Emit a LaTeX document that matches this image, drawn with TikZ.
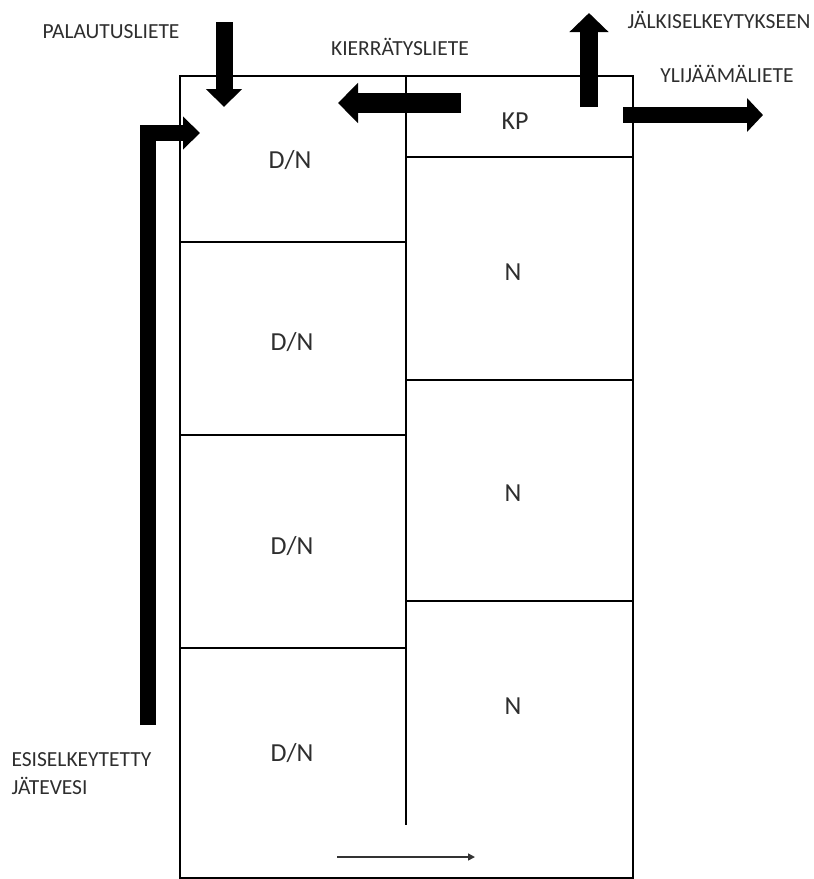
\documentclass[tikz,border=0pt]{standalone}
\usepackage{fontspec}
\setmainfont{Carlito}
\usetikzlibrary{arrows.meta}

\begin{document}
\begin{tikzpicture}[x=1pt, y=-1pt,
    tag/.style={text=black!82, font=\fontsize{21.5}{28}\selectfont},
    zone/.style={text=black!82, font=\fontsize{26}{30}\selectfont},
    wall/.style={line width=2pt},
    flow/.style={line width=#1, line join=miter},
  ]
  \useasboundingbox (0,0) rectangle (814,879);

  % basin and walls
  \draw[wall] (180,76) rectangle (633,878);
  \draw[wall] (406,76) -- (406,825);
  \draw[wall] (180,242) -- (406,242);
  \draw[wall] (180,435) -- (406,435);
  \draw[wall] (180,648) -- (406,648);
  \draw[wall] (406,157) -- (633,157);
  \draw[wall] (406,380) -- (633,380);
  \draw[wall] (406,601) -- (633,601);

  % zones
  \node[zone] (dn1) at (290,160) {D/N};
  \node[zone] (dn2) at (292,342) {D/N};
  \node[zone] (dn3) at (292,546) {D/N};
  \node[zone] (dn4) at (292,753) {D/N};
  \node[zone] (kp) at (515,121) {KP};
  \node[zone] (n1) at (513,272) {N};
  \node[zone] (n2) at (513,493) {N};
  \node[zone] (n3) at (513,706) {N};

  % labels
  \node[tag] (palaut) at (111,32) {PALAUTUSLIETE};
  \node[tag] (kierr) at (400,47) {KIERRÄTYSLIETE};
  \node[tag] (jalki) at (719,20) {JÄLKISELKEYTYKSEEN};
  \node[tag] (ylij) at (727,74) {YLIJÄÄMÄLIETE};
  \node[tag, anchor=west, align=left] (esi) at (8,774) {ESISELKEYTETTY\\JÄTEVESI};

  % arrow ends
  \coordinate (palin) at (224,22);
  \coordinate (palout) at (224,107);
  \coordinate (kierin) at (461,103);
  \coordinate (kierout) at (338,103);
  \coordinate (jalin) at (589,107);
  \coordinate (jalout) at (589,13);
  \coordinate (ylin) at (623,115);
  \coordinate (ylout) at (763,115);
  \coordinate (esiin) at (148,725);
  \coordinate (esibend) at (148,133);
  \coordinate (esiout) at (200,133);
  \coordinate (virtin) at (337,857);
  \coordinate (virtout) at (475,857);

  \draw[flow=17pt, -{Triangle[width=35pt,length=18pt]}] (palin) -- (palout);
  \draw[flow=20pt, -{Triangle[width=39pt,length=20pt]}] (kierin) -- (kierout);
  \draw[flow=18pt, -{Triangle[width=38pt,length=19pt]}] (jalin) -- (jalout);
  \draw[flow=16pt, -{Triangle[width=33pt,length=16pt]}] (ylin) -- (ylout);
  \draw[flow=16pt, -{Triangle[width=32pt,length=17pt]}] (esiin) -- (esibend) -- (esiout);
  \draw[black!80, line width=1.5pt, -{Triangle[width=7pt,length=7pt]}] (virtin) -- (virtout);
\end{tikzpicture}
\end{document}
